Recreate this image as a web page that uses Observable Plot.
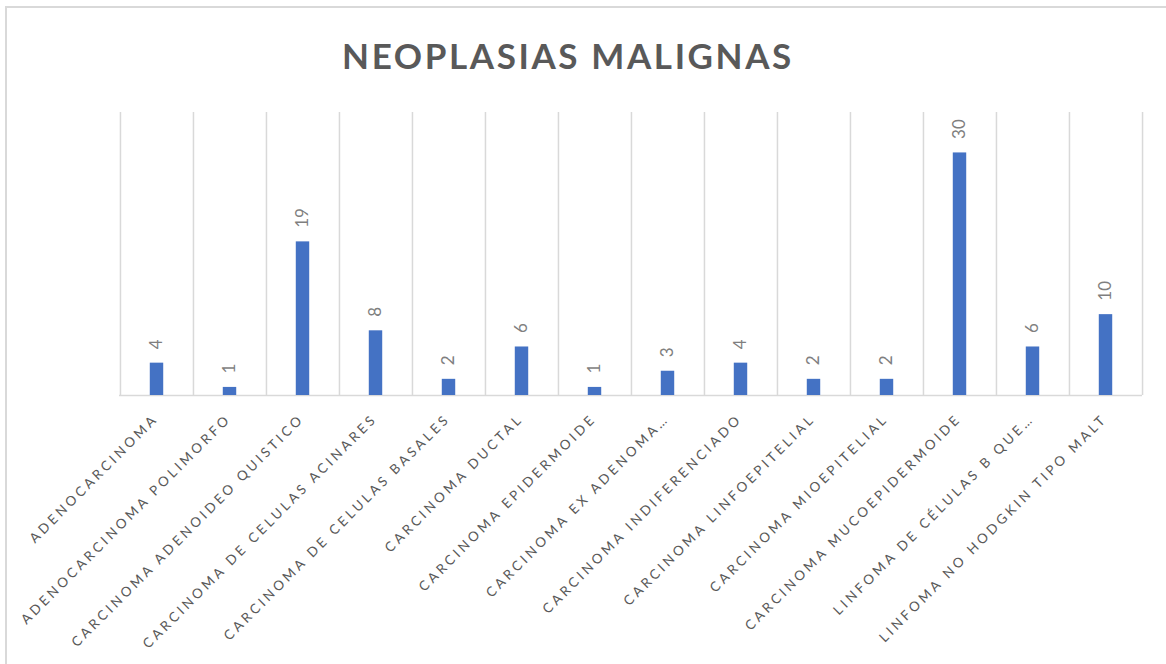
<!DOCTYPE html>
<html>
<head>
<meta charset="utf-8">
<script src="https://cdn.jsdelivr.net/npm/d3@7"></script>
<script src="https://cdn.jsdelivr.net/npm/@observablehq/plot@0.6"></script>
<style>
  html, body { margin: 0; padding: 0; background: #fff; overflow: hidden; }
  #wrap { position: relative; width: 1166px; height: 664px; overflow: hidden; }
  #border { position: absolute; left: 5px; top: 6px; width: 1300px; height: 800px; border: 2px solid #d9d9d9; box-sizing: border-box; }
  #title { position: absolute; left: 0; top: 0; width: 1136px; height: 90px; text-align: center;
           font-family: Lato, "Open Sans", sans-serif; font-weight: 700; font-size: 35px; letter-spacing: 2.6px;
           color: #595959; line-height: 110px; }
  #chart { position: absolute; left: 0; top: 90px; }
  .xlab text { letter-spacing: 3.3px; }
</style>
</head>
<body>
<div id="wrap">
  <div id="border"></div>
  <div id="title">NEOPLASIAS MALIGNAS</div>
  <div id="chart"></div>
</div>
<script>
const categories = [
  "ADENOCARCINOMA",
  "ADENOCARCINOMA POLIMORFO",
  "CARCINOMA ADENOIDEO QUISTICO",
  "CARCINOMA DE CELULAS ACINARES",
  "CARCINOMA DE CELULAS BASALES",
  "CARCINOMA DUCTAL",
  "CARCINOMA EPIDERMOIDE",
  "CARCINOMA EX ADENOMA…",
  "CARCINOMA INDIFERENCIADO",
  "CARCINOMA LINFOEPITELIAL",
  "CARCINOMA MIOEPITELIAL",
  "CARCINOMA MUCOEPIDERMOIDE",
  "LINFOMA DE CÉLULAS B QUE…",
  "LINFOMA NO HODGKIN TIPO MALT"
];
const values = [4, 1, 19, 8, 2, 6, 1, 3, 4, 2, 2, 30, 6, 10];

const data = categories.map((c, i) => ({cat: c, value: values[i]}));

const W = 1166, H = 574;
const mL = 119, mR = 24, mT = 22, mB = 269;
const step = (W - mL - mR) / categories.length;

const chart = Plot.plot({
  width: W,
  height: H,
  marginLeft: mL,
  marginRight: mR,
  marginTop: mT,
  marginBottom: mB,
  style: {fontFamily: "Lato, 'Open Sans', sans-serif", background: "transparent"},
  x: {domain: categories, paddingInner: 0, paddingOuter: 0, axis: null},
  y: {domain: [0, 35], axis: null},
  marks: [
    Plot.ruleX(categories, {x: d => d, dx: -step / 2, stroke: "#d9d9d9", strokeWidth: 1.5}),
    Plot.ruleX(categories.slice(-1), {x: d => d, dx: step / 2, stroke: "#d9d9d9", strokeWidth: 1.5}),
    Plot.ruleY([0], {stroke: "#d9d9d9", strokeWidth: 1.5}),
    Plot.barY(data, {x: "cat", y: "value", fill: "#4472C4", insetLeft: (step - 13.5) / 2, insetRight: (step - 13.5) / 2}),
    Plot.text(data, {x: "cat", y: "value", text: d => String(d.value), rotate: -90, textAnchor: "start",
                     lineAnchor: "middle", dy: -14, fill: "#7f7f7f", fontSize: 17}),
    Plot.text(categories, {x: d => d, frameAnchor: "bottom", text: d => d, rotate: -45, textAnchor: "end",
                           lineAnchor: "middle", dx: -1, dy: 21, fill: "#595959", fontSize: 13.4, className: "xlab"})
  ]
});
document.getElementById("chart").appendChild(chart);
</script>
</body>
</html>
